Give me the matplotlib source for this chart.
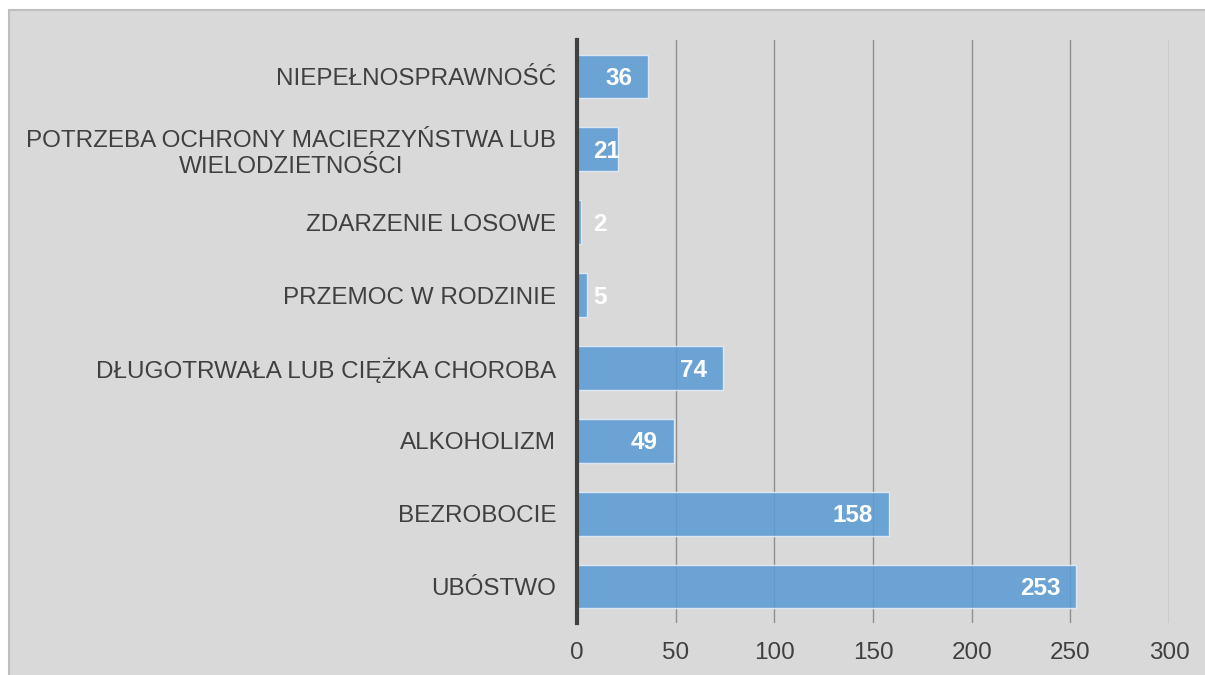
import matplotlib
matplotlib.use("Agg")
import matplotlib.pyplot as plt
from matplotlib.patches import Rectangle

categories = ["UBÓSTWO", "BEZROBOCIE", "ALKOHOLIZM", "DŁUGOTRWAŁA LUB CIĘŻKA CHOROBA",
              "PRZEMOC W RODZINIE", "ZDARZENIE LOSOWE",
              "POTRZEBA OCHRONY MACIERZYŃSTWA LUB\nWIELODZIETNOŚCI", "NIEPEŁNOSPRAWNOŚĆ"]
values = [253, 158, 49, 74, 5, 2, 21, 36]
xticks = [0, 50, 100, 150, 200, 250, 300]

plt.rcParams['font.family'] = ['Liberation Sans', 'DejaVu Sans']
FS = 17.5

W, H = 1205, 675
fig = plt.figure(figsize=(W / 100, H / 100), dpi=100, facecolor='white')
fig.patches.append(Rectangle((9 / W, -0.01), 1.0, (675 - 10) / H + 0.01, transform=fig.transFigure,
                             facecolor='#d9d9d9', edgecolor='#bfbfbf', linewidth=1.5, zorder=-10))

ax = fig.add_axes([577 / W, (H - 623) / H, (1169 - 577) / W, (623 - 40) / H])
ax.set_facecolor('none')
ypos = list(range(len(categories)))
ax.barh(ypos, values, height=0.6, color='#5b9bd5', alpha=0.87, edgecolor='#e6eef8',
        linewidth=1.0, zorder=3)
ax.set_xlim(0, 300)
ax.set_ylim(-0.5, len(categories) - 0.5)
ax.set_xticks(xticks)
ax.set_xticklabels([str(t) for t in xticks])
ax.set_yticks(ypos)
ax.set_yticklabels(categories, multialignment='center', linespacing=1.25)
ax.tick_params(axis='both', length=0, labelsize=FS, labelcolor='#404040')
ax.tick_params(axis='y', pad=15)
ax.tick_params(axis='x', pad=14)
ax.xaxis.grid(True, color='#8f8f8f', linewidth=1.0, zorder=1)
ax.set_axisbelow(True)
for s in ['top', 'right', 'bottom']:
    ax.spines[s].set_visible(False)
ax.spines['left'].set_color('#404040')
ax.spines['left'].set_linewidth(3)
ax.spines['left'].set_zorder(5)

fig.canvas.draw()
renderer = fig.canvas.get_renderer()
x0 = ax.transData.transform((0, 0))[0]
for y, v in zip(ypos, values):
    t = ax.annotate(str(v), (v, y), xytext=(-11.5, -1.5), textcoords='offset points',
                    ha='right', va='center', fontsize=FS, fontweight='bold', color='white', zorder=6)
    bb = t.get_window_extent(renderer)
    if bb.x0 < x0 + 16:
        t.remove()
        ax.annotate(str(v), (0, y), xytext=(11.5, -1.5), textcoords='offset points',
                    ha='left', va='center', fontsize=FS, fontweight='bold', color='white', zorder=6)

fig.savefig('out.png', dpi=100, facecolor='white')
